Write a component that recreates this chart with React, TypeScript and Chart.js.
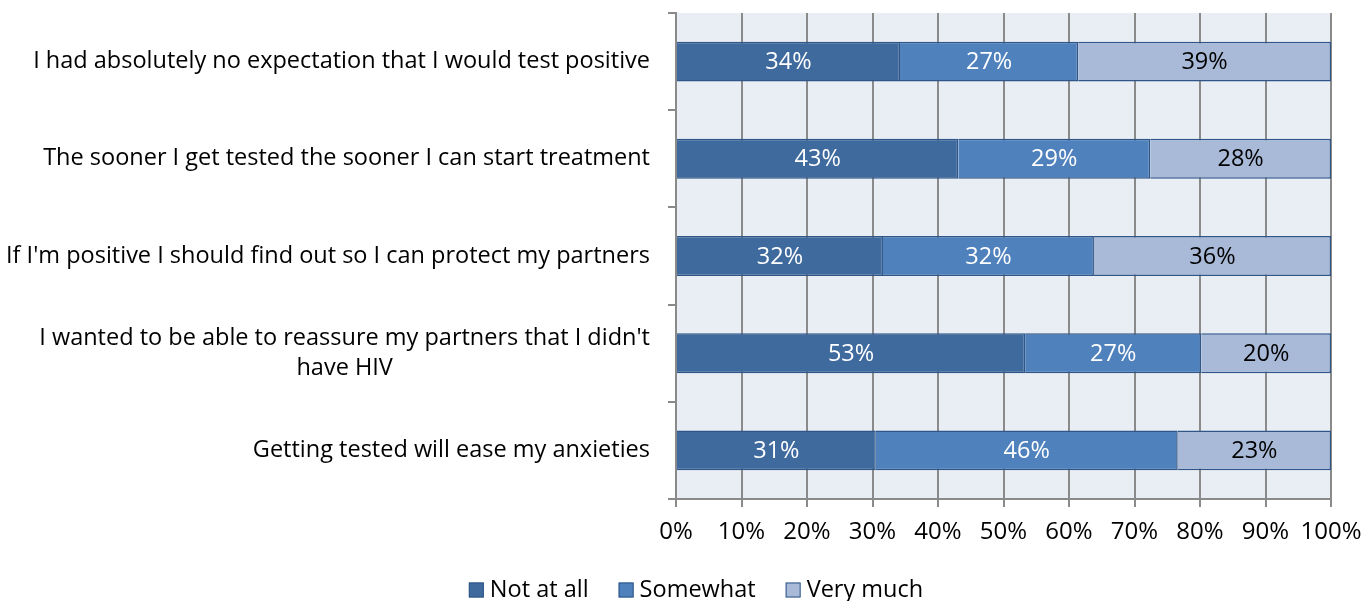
import React, { useEffect, useRef } from "react";
import { Chart, registerables } from "chart.js";

Chart.register(...registerables);

const categories: string[][] = [
  ["I had absolutely no expectation that I would test positive"],
  ["The sooner I get tested the sooner I can start treatment"],
  ["If I'm positive I should find out so I can protect my partners"],
  ["I wanted to be able to reassure my partners that I didn't", "have HIV"],
  ["Getting tested will ease my anxieties"],
];
const notAtAll = [34.2, 43.1, 31.6, 53.3, 30.5];
const somewhat = [27.2, 29.3, 32.2, 26.9, 46.1];
const veryMuch = [38.6, 27.6, 36.2, 19.8, 23.4];
const seriesNames = ["Not at all", "Somewhat", "Very much"];
const seriesColors = ["#3F6A9E", "#4F81BD", "#A9BAD8"];
const xTicks = [0, 10, 20, 30, 40, 50, 60, 70, 80, 90, 100];

const FONT = "Open Sans";
const TEXT_SIZE = 23.5;
const BORDER = "#2F5687";

const bgPlugin = {
  id: "plotBg",
  beforeDraw(chart: any) {
    const { ctx, chartArea } = chart;
    ctx.save();
    ctx.fillStyle = "#E9EDF4";
    ctx.fillRect(chartArea.left, chartArea.top, chartArea.right - chartArea.left, chartArea.bottom - chartArea.top);
    ctx.restore();
  },
};

const labelPlugin = {
  id: "barLabels",
  afterDatasetsDraw(chart: any) {
    const { ctx } = chart;
    ctx.save();
    ctx.font = `${TEXT_SIZE}px "${FONT}"`;
    ctx.textAlign = "center";
    ctx.textBaseline = "middle";
    chart.data.datasets.forEach((ds: any, di: number) => {
      const meta = chart.getDatasetMeta(di);
      meta.data.forEach((el: any, i: number) => {
        const v = ds.data[i];
        const cx = (el.x + el.base) / 2;
        ctx.fillStyle = di === 2 ? "#000000" : "#FFFFFF";
        ctx.fillText(Math.round(v) + "%", cx, el.y + 1);
      });
    });
    ctx.restore();
  },
};

// Category labels: right-aligned block, lines centred within the block
const yLabelPlugin = {
  id: "yLabels",
  afterDraw(chart: any) {
    const { ctx } = chart;
    const y = chart.scales.y;
    const right = chart.chartArea.left - 26;
    const lineH = 30;
    ctx.save();
    ctx.font = `${TEXT_SIZE}px "${FONT}"`;
    ctx.fillStyle = "#000";
    ctx.textAlign = "center";
    ctx.textBaseline = "middle";
    categories.forEach((lines, i) => {
      const cy = y.getPixelForValue(i);
      const w = Math.max(...lines.map((l) => ctx.measureText(l).width));
      const cx = right - w / 2;
      const y0 = cy - ((lines.length - 1) * lineH) / 2;
      lines.forEach((l, k) => ctx.fillText(l, cx, y0 + k * lineH));
    });
    ctx.restore();
  },
};

const legendPlugin = {
  id: "customLegend",
  afterDraw(chart: any) {
    const { ctx } = chart;
    const box = 15;
    const gap = 6;
    const spacing = 30;
    const cy = 590;
    ctx.save();
    ctx.font = `${TEXT_SIZE}px "${FONT}"`;
    const widths = seriesNames.map((n) => ctx.measureText(n).width);
    const total = widths.reduce((a, w) => a + box + gap + w, 0) + spacing * (seriesNames.length - 1);
    let x = 696 - total / 2;
    ctx.textBaseline = "middle";
    ctx.textAlign = "left";
    seriesNames.forEach((n, i) => {
      ctx.fillStyle = seriesColors[i];
      ctx.fillRect(x, cy - box / 2, box, box);
      ctx.strokeStyle = BORDER;
      ctx.lineWidth = 1;
      ctx.strokeRect(x + 0.5, cy - box / 2 + 0.5, box - 1, box - 1);
      ctx.fillStyle = "#000";
      ctx.fillText(n, x + box + gap, cy);
      x += box + gap + widths[i] + spacing;
    });
    ctx.restore();
  },
};

export default function App() {
  const ref = useRef<HTMLCanvasElement>(null);
  useEffect(() => {
    const chart = new Chart(ref.current!, {
      type: "bar",
      data: {
        labels: categories.map((l) => l.join(" ")),
        datasets: [
          { label: seriesNames[0], data: notAtAll, backgroundColor: seriesColors[0], borderColor: BORDER, borderWidth: 1.5 },
          { label: seriesNames[1], data: somewhat, backgroundColor: seriesColors[1], borderColor: BORDER, borderWidth: 1.5 },
          { label: seriesNames[2], data: veryMuch, backgroundColor: seriesColors[2], borderColor: BORDER, borderWidth: 1.5 },
        ] as any,
      },
      options: {
        indexAxis: "y",
        animation: false,
        responsive: false,
        categoryPercentage: 1,
        barPercentage: 0.41,
        layout: { padding: { top: 13, right: 33, left: 0, bottom: 0 } },
        plugins: {
          tooltip: { enabled: false },
          legend: { display: false },
        },
        scales: {
          x: {
            stacked: true,
            min: 0,
            max: 100,
            afterBuildTicks(scale: any) {
              scale.ticks = xTicks.map((v) => ({ value: v }));
            },
            afterFit(scale: any) {
              scale.height = 102;
              scale.paddingLeft = 0;
              scale.paddingRight = 0;
            },
            ticks: {
              callback: (v: any) => v + "%",
              font: { family: FONT, size: 24 },
              color: "#000",
              padding: 11,
              maxRotation: 0,
            },
            grid: { color: "#8A8A8A", lineWidth: 2, tickLength: 8 },
            border: { color: "#8A8A8A", width: 2 },
          },
          y: {
            stacked: true,
            afterFit(scale: any) {
              scale.width = 676;
              scale.paddingTop = 0;
              scale.paddingBottom = 0;
            },
            ticks: { display: false },
            grid: { drawOnChartArea: false, offset: true, color: "#8A8A8A", lineWidth: 2, tickLength: 8 },
            border: { color: "#8A8A8A", width: 2 },
          },
        },
      } as any,
      plugins: [bgPlugin, labelPlugin, yLabelPlugin, legendPlugin],
    });
    return () => chart.destroy();
  }, []);
  return (
    <div style={{ position: "fixed", left: 0, top: 0, width: 1364, height: 601, background: "#fff" }}>
      <canvas ref={ref} width={1364} height={601} style={{ width: 1364, height: 601 }} />
    </div>
  );
}
